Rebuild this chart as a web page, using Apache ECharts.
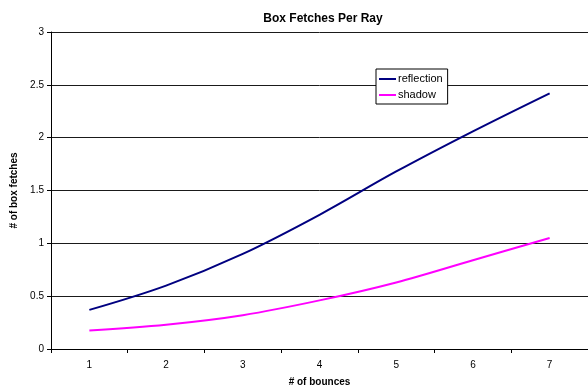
<!DOCTYPE html>
<html>
<head>
<meta charset="utf-8">
<script src="https://cdn.jsdelivr.net/npm/echarts@6/dist/echarts.min.js"></script>
<style>
  html, body { margin: 0; padding: 0; background: #fff; }
  #chart { width: 588px; height: 390px; }
</style>
</head>
<body>
<div id="chart"></div>
<script>
// Number of bounces on the x axis
const bounces = ['1', '2', '3', '4', '5', '6', '7'];
// Average box fetches per ray for each ray type
const reflection = [0.37, 0.60, 0.90, 1.27, 1.68, 2.06, 2.42];
const shadow = [0.175, 0.23, 0.32, 0.46, 0.63, 0.84, 1.05];

const font = 'Liberation Sans, Arial, sans-serif';
const chart = echarts.init(document.getElementById('chart'), null, { renderer: 'canvas' });

chart.setOption({
  animation: false,
  backgroundColor: '#fff',
  title: {
    text: 'Box Fetches Per Ray',
    left: 318,
    textAlign: 'center',
    top: 8,
    textStyle: { fontFamily: font, fontSize: 12, fontWeight: 'bold', color: '#000' }
  },
  legend: {
    orient: 'vertical',
    left: 376,
    top: 69,
    padding: [4, 5, 3, 3],
    itemGap: 4,
    itemWidth: 17,
    itemHeight: 2,
    backgroundColor: '#fff',
    borderColor: '#000',
    borderWidth: 1,
    borderRadius: 0,
    icon: 'rect',
    textStyle: { fontFamily: font, fontSize: 11, color: '#000', padding: [0, 0, 0, -3], lineHeight: 12 },
    data: ['reflection', 'shadow']
  },
  grid: { left: 51, top: 32, width: 537, height: 317, outerBoundsMode: 'none', containLabel: false },
  xAxis: {
    type: 'category',
    data: bounces,
    boundaryGap: true,
    name: '# of bounces',
    nameLocation: 'middle',
    nameGap: 28,
    nameTextStyle: { fontFamily: font, fontSize: 10, fontWeight: 'bold', color: '#000' },
    axisLine: { lineStyle: { color: '#000', width: 1 } },
    axisTick: { show: true, length: 4, alignWithLabel: false, lineStyle: { color: '#000' } },
    axisLabel: { fontFamily: font, fontSize: 10, color: '#000', margin: 11 },
    splitLine: { show: false }
  },
  yAxis: {
    type: 'value',
    min: 0,
    max: 3,
    interval: 0.5,
    name: '# of box fetches',
    nameLocation: 'middle',
    nameGap: 26,
    nameRotate: 90,
    nameTextStyle: { fontFamily: font, fontSize: 10, fontWeight: 'bold', color: '#000' },
    axisLine: { show: true, lineStyle: { color: '#000', width: 1 } },
    axisTick: { show: true, length: 4, inside: false, lineStyle: { color: '#000' } },
    axisLabel: { fontFamily: font, fontSize: 10, color: '#000', margin: 7 },
    splitLine: { show: true, lineStyle: { color: '#1a1a1a', width: 1 } }
  },
  series: [
    {
      name: 'reflection',
      type: 'line',
      data: reflection,
      smooth: 0.35,
      showSymbol: false,
      symbol: 'none',
      color: '#000080',
      lineStyle: { color: '#000080', width: 2 }
    },
    {
      name: 'shadow',
      type: 'line',
      data: shadow,
      smooth: 0.35,
      showSymbol: false,
      symbol: 'none',
      color: '#ff00ff',
      lineStyle: { color: '#ff00ff', width: 2 }
    }
  ]
});
</script>
</body>
</html>
